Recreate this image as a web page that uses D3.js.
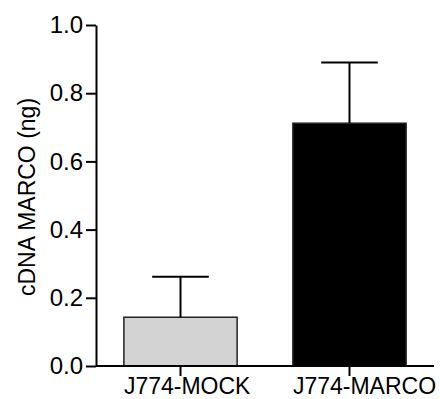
<!DOCTYPE html>
<html>
<head>
<meta charset="utf-8">
<script src="https://cdn.jsdelivr.net/npm/d3@7"></script>
<style>
  body { margin: 0; background: #fff; }
  svg { display: block; font-family: "Liberation Sans", Arial, sans-serif; }
</style>
</head>
<body>
<svg id="chart" width="440" height="399"></svg>
<script>
var categories = ['J774-MOCK', 'J774-MARCO'];
var means = [0.143, 0.712];
var errors = [0.119, 0.178];
var barColors = ['#d3d3d3', '#000000'];
var yTicks = [0, 0.2, 0.4, 0.6, 0.8, 1.0];

var svg = d3.select('#chart');

var x0 = 96, x1 = 434;
var y = d3.scaleLinear().domain([0, 1]).range([366, 25]);
var x = d3.scaleBand().domain(categories).range([x0, x1])
	.paddingInner(0.33).paddingOuter(0.165);

// bars
svg.selectAll('rect.bar')
	.data(categories)
	.enter()
	.append('rect')
	.attr('class', 'bar')
	.attr('x', function(d) { return x(d); })
	.attr('width', x.bandwidth())
	.attr('y', function(d, i) { return y(means[i]); })
	.attr('height', function(d, i) { return y(0) - y(means[i]); })
	.style('fill', function(d, i) { return barColors[i]; })
	.style('stroke', '#222')
	.style('stroke-width', 1.5);

// error bars (upper only)
var err = svg.selectAll('g.err')
	.data(categories)
	.enter()
	.append('g')
	.attr('class', 'err')
	.style('stroke', '#000')
	.style('stroke-width', 2);

err.append('line')
	.attr('x1', function(d) { return x(d) + x.bandwidth() / 2; })
	.attr('x2', function(d) { return x(d) + x.bandwidth() / 2; })
	.attr('y1', function(d, i) { return y(means[i]); })
	.attr('y2', function(d, i) { return y(means[i] + errors[i]); });

err.append('line')
	.attr('x1', function(d) { return x(d) + x.bandwidth() / 4; })
	.attr('x2', function(d) { return x(d) + x.bandwidth() * 3 / 4; })
	.attr('y1', function(d, i) { return y(means[i] + errors[i]); })
	.attr('y2', function(d, i) { return y(means[i] + errors[i]); });

// y axis
var yAxis = svg.append('g')
	.attr('transform', 'translate(' + x0 + ',0)')
	.call(d3.axisLeft(y).tickValues(yTicks).tickSize(10).tickSizeOuter(0)
		.tickFormat(d3.format('.1f')));

// x axis
var xAxis = svg.append('g')
	.attr('transform', 'translate(0,' + y(0) + ')')
	.call(d3.axisBottom(x).tickSize(10).tickSizeOuter(0));
xAxis.select('.domain').attr('d', 'M' + x0 + ',0H' + x1);

svg.selectAll('.domain, .tick line')
	.style('stroke', '#000')
	.style('stroke-width', 2);

svg.selectAll('.tick text')
	.attr('font-family', null)
	.attr('font-size', null);

yAxis.selectAll('text')
	.attr('x', -13)
	.style('font-size', '24px')
	.style('fill', '#000');

// labels start at the bar's left edge, as in the source figure
xAxis.selectAll('text')
	.attr('y', 11.5)
	.attr('x', -x.bandwidth() / 2)
	.attr('text-anchor', 'start')
	.style('font-size', '23px')
	.style('fill', '#000');

// y label
svg.append('text')
	.attr('transform', 'translate(35,197) rotate(-90)')
	.attr('text-anchor', 'middle')
	.style('font-size', '23px')
	.text('cDNA MARCO (ng)');
</script>
</body>
</html>
